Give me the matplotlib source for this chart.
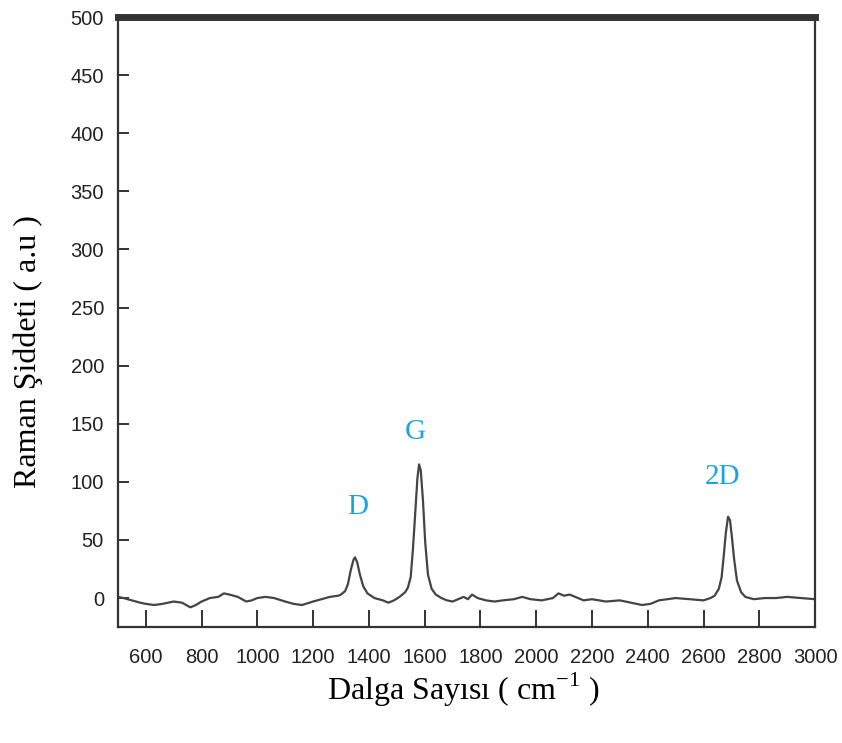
"""Raman spectrum of the sample with D, G and 2D bands marked."""

import matplotlib.pyplot as plt

plt.rcParams["mathtext.fontset"] = "custom"
plt.rcParams["mathtext.rm"] = "Liberation Serif"

# Wavenumber (cm-1) and intensity (a.u.).
wavenumber = [
    500, 520, 550, 580, 600, 630, 660, 700, 730, 760, 780, 800, 830, 860, 880,
    900, 930, 960, 980, 1000, 1030, 1060, 1100, 1130, 1160, 1200, 1230, 1260,
    1290, 1300, 1315, 1325, 1335, 1345, 1350, 1358, 1368, 1380, 1395, 1420,
    1450, 1470, 1490, 1510, 1530, 1540, 1550, 1558, 1566, 1574, 1580, 1586,
    1594, 1602, 1612, 1625, 1640, 1660, 1680, 1700, 1720, 1740, 1755, 1770,
    1790, 1820, 1850, 1880, 1920, 1950, 1980, 2020, 2060, 2080, 2100, 2120,
    2140, 2170, 2200, 2250, 2300, 2340, 2380, 2410, 2440, 2470, 2500, 2550,
    2600, 2625, 2640, 2655, 2665, 2672, 2680, 2688, 2695, 2702, 2710, 2720,
    2735, 2750, 2780, 2820, 2860, 2900, 2950, 3000,
]
intensity = [
    1, 0, -2, -4, -5, -6, -5, -3, -4, -8, -6, -3, 0, 1, 4,
    3, 1, -3, -2, 0, 1, 0, -3, -5, -6, -3, -1, 1,
    2, 3, 6, 12, 24, 33, 35, 31, 20, 10, 4, 0,
    -2, -4, -2, 1, 5, 9, 18, 42, 72, 103, 115, 110,
    84, 48, 20, 8, 3, 0, -2, -3, -1, 1, -1, 3,
    0, -2, -3, -2, -1, 1, -1, -2, 0, 4, 2, 3,
    1, -2, -1, -3, -2, -4, -6, -5, -2, -1, 0, -1,
    -2, 0, 2, 8, 18, 35, 56, 70, 67, 52, 33, 15,
    5, 1, -1, 0, 0, 1, 0, -1,
]

# Band labels and where they sit on the plot.
band_names = ["D", "G", "2D"]
band_x = [1360, 1568, 2669]
band_y = [78, 143, 104]

fig = plt.figure(figsize=(8.42, 7.43), dpi=100)
ax = fig.add_axes([0.140, 0.156, 0.828, 0.821])

ax.plot(wavenumber, intensity, color="#444444", linewidth=1.6)

for name, bx, by in zip(band_names, band_x, band_y):
    ax.text(bx, by, name, color="#1aa3e6", fontsize=21,
            family="Liberation Serif", ha="center", va="center")

ax.set_xlim(500, 3000)
ax.set_ylim(-25, 500)
ax.set_xticks(range(600, 3001, 200))
ax.set_yticks(range(0, 501, 50))

for side in ["left", "right", "bottom"]:
    ax.spines[side].set_linewidth(1.6)
    ax.spines[side].set_color("#333333")
ax.spines["top"].set_linewidth(5)
ax.spines["top"].set_color("#333333")

ax.tick_params(axis="x", direction="in", length=12, width=1.4, color="#333333",
               pad=15, labelsize=14.5)
ax.tick_params(axis="y", direction="in", length=8, width=1.4, color="#333333",
               pad=10, labelsize=14.5)
for lab in ax.get_xticklabels() + ax.get_yticklabels():
    lab.set_family("Liberation Sans")
    lab.set_color("#222222")

ax.set_xlabel("Dalga Sayısı ( cm$^{\\mathregular{-1}}$ )", family="Liberation Serif",
              fontsize=23)
ax.set_ylabel("Raman Şiddeti ( a.u )", family="Liberation Serif", fontsize=23)
ax.xaxis.set_label_coords(0.495, -0.103, transform=ax.transAxes)
ax.yaxis.set_label_coords(-0.129, 0.451, transform=ax.transAxes)
ax.xaxis.label.set_va("center")
ax.yaxis.label.set_va("center")

plt.savefig("out.png", dpi=100)
